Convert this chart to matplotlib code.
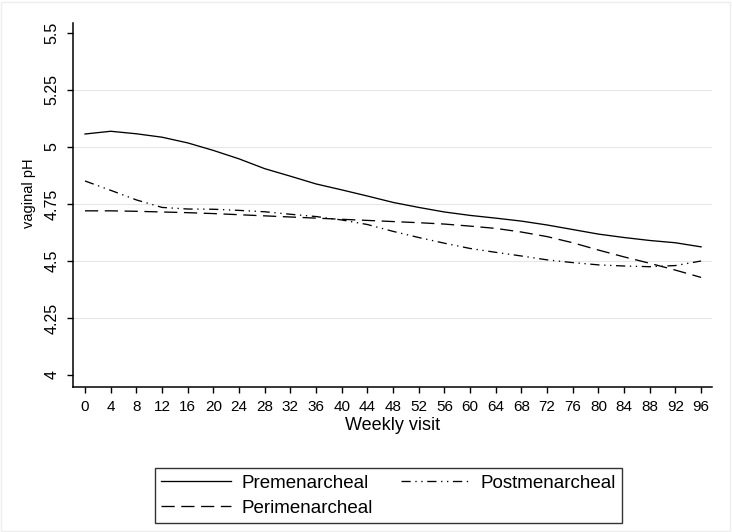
import matplotlib
matplotlib.use("Agg")
import matplotlib.pyplot as plt
import numpy as np

weeks = [0, 4, 8, 12, 16, 20, 24, 28, 32, 36, 40, 44, 48,
         52, 56, 60, 64, 68, 72, 76, 80, 84, 88, 92, 96]

premenarcheal = [5.057, 5.069, 5.058, 5.043, 5.018, 4.985, 4.948, 4.905, 4.872,
                 4.838, 4.812, 4.785, 4.757, 4.735, 4.715, 4.700, 4.688, 4.675,
                 4.658, 4.638, 4.618, 4.603, 4.590, 4.580, 4.562]

perimenarcheal = [4.720, 4.720, 4.718, 4.715, 4.712, 4.708, 4.703, 4.698, 4.693,
                  4.688, 4.683, 4.678, 4.673, 4.668, 4.662, 4.653, 4.643, 4.627,
                  4.607, 4.580, 4.548, 4.518, 4.490, 4.460, 4.428]

postmenarcheal = [4.851, 4.810, 4.768, 4.735, 4.728, 4.727, 4.722, 4.716, 4.705,
                  4.695, 4.680, 4.660, 4.630, 4.603, 4.578, 4.555, 4.538, 4.522,
                  4.505, 4.493, 4.483, 4.478, 4.475, 4.480, 4.500]

series_labels = ["Premenarcheal", "Perimenarcheal", "Postmenarcheal"]
y_ticks = [4, 4.25, 4.5, 4.75, 5, 5.25, 5.5]
y_ticklabels = ["4", "4.25", "4.5", "4.75", "5", "5.25", "5.5"]
x_ticks = list(range(0, 97, 4))

plt.rcParams['font.family'] = ['Liberation Sans', 'DejaVu Sans']

fig = plt.figure(figsize=(7.32, 5.32), dpi=100)
fig.patch.set_facecolor('white')
ax = fig.add_axes([73/732, 1-387/532, (712-73)/732, (387-23)/532])

# grid lines (not at axis extremes)
for v in y_ticks[1:-1]:
    ax.axhline(v, color='#e6e6e6', lw=0.8, zorder=0)

lw = 0.95
ax.plot(weeks, premenarcheal, color='black', lw=lw, linestyle='-', label=series_labels[0])
ax.plot(weeks, perimenarcheal, color='black', lw=lw, linestyle=(0, (10, 5)), label=series_labels[1])
ax.plot(weeks, postmenarcheal, color='black', lw=lw, linestyle=(0, (7, 3.5, 1, 3.5, 1, 3.5)), label=series_labels[2])

ax.set_xlim(-1.87, 97.7)
ax.set_ylim(4 - 12/228, 4 + 352/228)

ax.set_xticks(x_ticks)
ax.set_xticklabels([str(x) for x in x_ticks], fontsize=11)
ax.set_yticks(y_ticks)
ax.set_yticklabels(y_ticklabels, fontsize=11.5, rotation=90, va='center')

ax.tick_params(axis='x', direction='out', length=4.5, width=1, pad=5)
ax.tick_params(axis='y', direction='out', length=4, width=1, pad=5.5)

for s in ['top', 'right']:
    ax.spines[s].set_visible(False)
for s in ['left', 'bottom']:
    ax.spines[s].set_linewidth(1.1)
    ax.spines[s].set_color('black')

ax.set_xlabel("Weekly visit", fontsize=13, labelpad=2)
ax.set_ylabel("vaginal pH", fontsize=10.5)
ax.yaxis.set_label_coords((36-73)/639, (387-193)/364)

handles, labels = ax.get_legend_handles_labels()
leg = fig.legend(handles, labels, ncol=2, loc='center',
                 bbox_to_anchor=(388.5/732, 1-495.5/532),
                 fontsize=13.5, frameon=True, fancybox=False,
                 handlelength=3.7, handletextpad=0.55, columnspacing=1.5,
                 labelspacing=0.42, borderpad=0.35, borderaxespad=0)
leg.get_frame().set_edgecolor('black')
leg.get_frame().set_linewidth(1.0)

# faint outer frame
fig.add_artist(plt.Rectangle((0.002, 0.002), 0.995, 0.994, transform=fig.transFigure,
                             fill=False, edgecolor='#eeeeee', lw=1))

fig.savefig("out.png", dpi=100)
